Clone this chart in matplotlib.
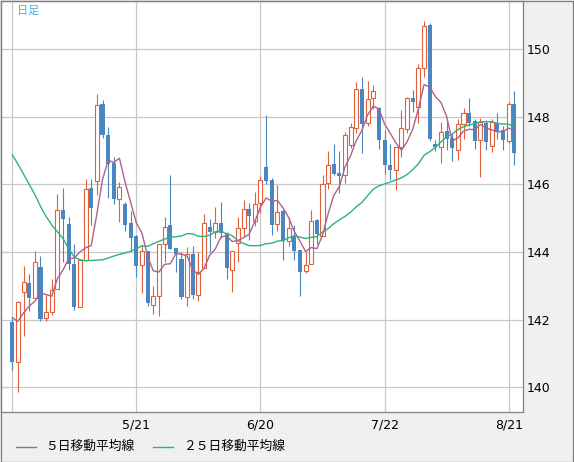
import matplotlib
matplotlib.use("Agg")
import matplotlib.pyplot as plt
from matplotlib.lines import Line2D
from matplotlib.patches import Rectangle
import numpy as np
import pandas as pd

# daily candles
opens = [141.94, 140.76, 142.82, 143.07, 142.65, 143.55, 142.04, 142.24, 142.92, 145.25,
         144.82, 143.64, 142.38, 143.76, 145.90, 146.11, 148.37, 147.47, 146.63, 145.56,
         145.42, 144.86, 144.46, 143.62, 144.02, 142.44, 142.69, 144.25, 144.79, 144.13,
         143.79, 142.66, 143.94, 142.74, 143.52, 144.75, 144.58, 144.87, 144.55, 143.48,
         144.28, 144.72, 145.27, 144.92, 145.44, 146.52, 146.12, 144.84, 145.20, 144.33,
         144.48, 144.06, 143.43, 143.64, 144.94, 144.48, 146.03, 146.59, 146.33, 146.27,
         147.15, 147.66, 148.81, 147.81, 148.54, 148.25, 147.32, 146.58, 146.41, 147.10,
         147.64, 148.54, 148.30, 149.43, 150.71, 147.20, 147.11, 147.57, 147.38, 147.01,
         147.79, 148.12, 147.87, 147.31, 147.82, 147.13, 147.82, 147.62, 147.28, 148.37]
highs = [142.06, 142.55, 143.58, 143.35, 144.02, 143.88, 142.74, 143.20, 145.72, 145.90,
         145.02, 144.25, 143.80, 146.17, 146.17, 148.67, 148.49, 147.69, 146.80, 146.08,
         145.49, 145.20, 144.50, 144.20, 144.02, 143.00, 144.25, 145.04, 146.28, 144.13,
         143.99, 144.15, 144.18, 143.99, 145.12, 144.97, 145.33, 145.48, 144.60, 144.04,
         145.02, 145.53, 145.46, 145.78, 146.25, 148.04, 146.20, 145.97, 145.27, 145.02,
         144.79, 144.06, 143.99, 145.24, 144.99, 146.27, 147.00, 147.18, 147.00, 147.55,
         147.81, 149.04, 149.16, 149.06, 148.94, 148.28, 147.61, 147.19, 147.10, 148.20,
         148.57, 148.79, 149.56, 150.83, 150.76, 147.30, 147.85, 147.89, 147.48, 147.94,
         148.27, 148.54, 147.92, 147.97, 147.89, 147.94, 148.12, 147.72, 148.44, 148.76]
lows = [140.50, 139.87, 141.53, 142.26, 142.65, 141.97, 141.97, 142.13, 142.92, 143.70,
        143.46, 142.30, 142.38, 143.76, 144.79, 145.69, 147.37, 145.60, 145.41, 144.89,
        144.62, 144.03, 143.25, 142.79, 142.39, 142.18, 142.11, 143.70, 144.10, 143.40,
        142.61, 142.41, 142.61, 142.54, 143.52, 143.99, 144.40, 144.40, 143.20, 142.83,
        143.69, 144.48, 144.36, 144.77, 145.15, 146.00, 144.50, 144.63, 143.77, 144.18,
        143.77, 142.71, 143.37, 143.64, 144.23, 144.48, 145.86, 146.28, 145.73, 146.05,
        147.07, 147.51, 146.92, 147.71, 148.22, 147.04, 146.31, 146.14, 145.84, 146.82,
        147.53, 148.15, 147.81, 149.18, 147.27, 147.00, 146.63, 147.03, 146.68, 146.73,
        147.33, 147.72, 147.05, 146.22, 147.01, 146.96, 147.33, 147.03, 147.23, 146.58]
closes = [140.76, 142.51, 143.10, 142.65, 143.69, 142.02, 142.24, 142.87, 145.25, 144.97,
          143.65, 142.38, 143.76, 145.87, 145.30, 148.34, 147.45, 146.60, 145.56, 145.91,
          144.81, 144.42, 143.60, 144.02, 142.48, 142.69, 144.25, 144.74, 144.10, 143.95,
          142.66, 143.93, 142.74, 143.40, 144.87, 144.58, 144.85, 144.55, 143.53, 144.04,
          144.72, 145.27, 145.07, 145.43, 146.12, 146.10, 144.80, 145.17, 144.33, 144.70,
          144.02, 143.40, 143.62, 144.92, 144.53, 146.02, 146.57, 146.32, 146.25, 147.45,
          147.69, 148.81, 147.78, 148.52, 148.76, 147.30, 146.56, 146.43, 147.10, 147.66,
          148.54, 148.42, 149.43, 150.68, 147.34, 147.11, 147.55, 147.35, 147.06, 147.79,
          148.12, 147.82, 147.28, 147.84, 147.26, 147.84, 147.54, 147.30, 148.37, 146.93]

# moving-average values at the left edge (they depend on days before the chart)
ma5_head = [142.06, 141.95, 142.20, 142.40]
ma25_head = [146.87, 146.60, 146.30, 146.00, 145.70, 145.35, 145.05, 144.80, 144.60, 144.40,
             144.10, 143.85, 143.77, 143.74, 143.75, 143.76, 143.77, 143.82, 143.88, 143.93,
             143.97, 144.02, 144.10, 144.18]

tick_idx = [0, 22, 44, 66, 88]
tick_labels = ["", "5/21", "6/20", "7/22", "8/21"]

UP = "#e0603c"
DOWN = "#4a86c0"
MA5_COL = "#b0608c"
MA25_COL = "#2db37a"
jp = ["Noto Sans CJK JP", "DejaVu Sans"]

W, H = 574, 462
fig = plt.figure(figsize=(W / 100, H / 100), dpi=100, facecolor="#f0f0f0")
ax = fig.add_axes([1 / W, 50 / H, 522.3 / W, 411 / H])
ax.set_facecolor("white")

o = np.array(opens)
h = np.array(highs)
l = np.array(lows)
c = np.array(closes)
x = np.arange(len(c))
up = c >= o
top = np.maximum(o, c)
bot = np.minimum(o, c)
body = np.maximum(top - bot, 0.02)

# wicks, above and below the body
ax.vlines(x[up], top[up], h[up], color=UP, lw=0.8, zorder=2)
ax.vlines(x[up], l[up], bot[up], color=UP, lw=0.8, zorder=2)
ax.vlines(x[~up], l[~up], h[~up], color=DOWN, lw=0.8, zorder=2)

ax.bar(x[up], body[up], bottom=bot[up], width=0.72, facecolor="white",
       edgecolor=UP, linewidth=0.8, zorder=3)
ax.bar(x[~up], body[~up], bottom=bot[~up], width=0.72, color=DOWN,
       linewidth=0, zorder=3)

s = pd.Series(closes)
ma5 = np.concatenate([ma5_head, s.rolling(5).mean().values[len(ma5_head):]])
ma25 = np.concatenate([ma25_head, s.rolling(25).mean().values[len(ma25_head):]])
ax.plot(x, ma25, color=MA25_COL, lw=1.0, zorder=4)
ax.plot(x, ma5, color=MA5_COL, lw=1.0, zorder=4)

ax.set_xlim(-2.0, 90.6)
ax.set_ylim(139.27, 151.42)
ax.set_yticks([140, 142, 144, 146, 148, 150])
ax.set_xticks(tick_idx)
ax.set_xticklabels(tick_labels)
ax.yaxis.tick_right()
ax.tick_params(axis="both", length=0, labelsize=9, colors="black")
ax.tick_params(axis="y", pad=2.5)
ax.tick_params(axis="x", pad=4.5)
ax.grid(True, color="#c8c8c8", lw=0.9)
ax.set_axisbelow(True)
for sp in ax.spines.values():
    sp.set_color("#808080")
    sp.set_linewidth(0.9)

fig.text(17 / W, 1 - 10.5 / H, "日足", color="#3cb4e6", fontsize=8,
         va="center", family=jp)

# legend along the bottom
ly = 1 - 446.5 / H
fig.add_artist(Line2D([16 / W, 36 / W], [ly, ly], color=MA5_COL, lw=1.0))
fig.text(45 / W, ly, "５日移動平均線", fontsize=9.2, va="center", family=jp)
fig.add_artist(Line2D([153 / W, 173 / W], [ly, ly], color=MA25_COL, lw=1.0))
fig.text(183 / W, ly, "２５日移動平均線", fontsize=9.2, va="center", family=jp)

fig.add_artist(Rectangle((0.5 / W, 0.5 / H), 1 - 1.5 / W, 1 - 1.5 / H,
                         transform=fig.transFigure, fill=False,
                         edgecolor="#808080", lw=0.9))

fig.savefig("out.png", dpi=100, facecolor=fig.get_facecolor())
